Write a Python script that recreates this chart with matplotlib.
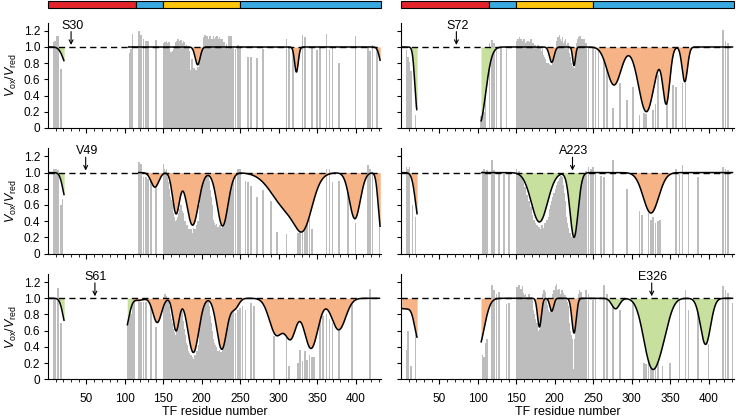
import numpy as np
import matplotlib
matplotlib.use('Agg')
import matplotlib.pyplot as plt
from matplotlib.patches import Rectangle

plt.rcParams['font.family'] = ['Liberation Sans', 'DejaVu Sans']
plt.rcParams['mathtext.fontset'] = 'custom'
plt.rcParams['mathtext.rm'] = 'Liberation Sans'
plt.rcParams['mathtext.it'] = 'Liberation Sans:italic'

# ---------------- residues (shared categories) ----------------
N_RES = [3, 5, 7, 9, 11, 13, 15, 17, 19]
A_RES = [104, 106, 108, 110, 112, 115, 118, 121, 124, 127, 130, 134, 137, 140, 143, 146]
B_RES = list(range(150, 237))
C_RES = [238, 241, 244, 247, 250, 253, 257, 260, 264, 268, 272, 276, 280, 285, 290, 294,
         298, 302, 306, 310, 313, 316, 319, 322, 325, 328, 331, 334, 337, 340, 343, 346,
         350, 354, 358, 362, 366, 370, 374, 378, 382, 386, 390, 395, 400, 404, 408, 412,
         416, 419, 422, 425, 428, 431]
residues = N_RES + A_RES + B_RES + C_RES
_ = None

# ---------------- S30 ----------------
S30_N = [_, _, 1.06, 1.07, 1.14, 1.13, _, 0.73, _]
S30_A = [_, 0.92, 0.97, 1.16, _, _, 1.2, 1.15, 1.1, 1.07, 1.07, _, _, 1.09, _, _]
S30_B = [1.0, 1.05, 1.06, 1.03, 1.07, 1.05, 1.02, 1.06, 0.95, 0.92, 0.94, 0.91, 0.95, 0.93, 0.97,
         1.0, 1.06, 1.04, 1.08, 1.1, 1.06, 1.03, 1.07, 1.09, 1.05, 1.02, 1.08, 1.06, 1.0, 0.98,
         1.02, 0.97, 0.99, 0.95, 0.9, 0.72, 0.7, 0.85, 0.78, 0.7, 0.74, 0.68, 0.72, 0.66, 0.7,
         0.75, 0.68, 0.73, 0.8, 0.88, 0.95, 1.0, 1.05, 1.12, 1.15, 1.1, 1.08, 1.13, 1.1, 1.05,
         1.12, 1.14, 1.08, 1.1, 1.06, 1.13, 1.1, 1.04, 1.12, 1.08, 1.13, 1.1, 1.05, 1.12, 1.08,
         1.1, 1.06, 1.1, 1.02, 1.06, _, 1.0, 1.04, _, 0.98, 1.13, 1.02]
S30_C = [1.13, 1.0, 0.98, 1.02, 1.0, _, _, 0.88, 0.87, _, 0.86, _, 0.97, _, _, _,
         _, _, _, 1.1, 1.0, _, 1.0, _, _, _, 1.15, 1.12, _, _, 1.0, _,
         0.96, 1.0, _, 1.16, 0.96, 1.0, _, 0.8, _, _, _, _, 1.13, _, _, _,
         1.0, 0.95, 1.03, _, 1.0, _]

# ---------------- S72 ----------------
S72_N = [_, _, 0.96, 0.88, 0.82, 0.7, _, _, 0.16]
S72_A = [0.15, 0.16, 0.2, 0.38, _, 1.05, 1.09, 1.05, 0.98, _, 1.0, _, 0.98, _, _, _]
S72_B = [1.05, 1.08, 1.1, 1.06, 1.12, 1.04, 1.1, 1.07, 1.02, 1.08, 1.1, 1.05, 1.0, 1.06, 1.03,
         1.08, 0.95, 1.02, 1.06, 1.1, 1.04, 1.0, 1.05, 0.98, 1.02, 0.95, 1.0, 0.97, 1.03, 0.93,
         0.98, 1.0, 0.95, 0.92, 0.97, 0.9, 0.88, 0.85, 0.82, 0.8, 0.78, 0.8, 0.76, 0.79, 0.75,
         0.78, 0.74, 0.77, 0.8, 0.85, 0.9, 0.97, 1.03, 1.08, 1.12, 1.06, 1.15, 1.1, 1.04, 1.08,
         1.12, 1.05, 1.02, 1.07, 1.1, 1.03, 1.0, 1.05, 0.98, 0.92, 0.88, 0.8, 0.76, 0.72, 0.75,
         0.7, 0.74, 0.8, 0.9, 1.05, 1.1, 1.12, 1.08, 1.14, 1.05, 1.1, 1.02]
S72_C = [1.1, 1.05, 1.0, _, 1.0, 0.96, 0.95, _, 0.84, 0.9, _, 0.25, _, 0.55, _, 0.34,
         _, 0.5, _, 0.16, _, 0.18, 0.17, _, _, 0.22, 0.3, 0.65, _, _, _, 0.32,
         _, 0.53, 0.5, _, 0.56, 0.55, _, _, _, _, _, _, _, _, _, _,
         _, 1.21, 1.07, 1.05, _, _]

# ---------------- V49 ----------------
V49_N = [_, _, 1.05, 1.04, 1.05, 1.03, _, 0.6, 0.67]
V49_A = [_, _, _, _, _, _, 1.13, 1.1, 0.94, 0.95, 0.92, 0.97, _, 0.82, _, _]
V49_B = [1.1, 1.05, 1.02, 0.98, 1.05, 0.95, 0.88, 0.8, 0.75, 0.7, 0.66, 0.62, 0.55, 0.5, 0.45,
         0.4, 0.38, 0.42, 0.35, 0.45, 0.5, 0.55, 0.48, 0.6, 0.52, 0.45, 0.5, 0.35, 0.4, 0.3,
         0.28, 0.35, 0.25, 0.3, 0.22, 0.28, 0.3, 0.2, 0.25, 0.32, 0.28, 0.3, 0.22, 0.35, 0.3,
         0.4, 0.35, 0.45, 0.6, 0.7, 0.8, 0.88, 0.92, 0.95, 0.98, 0.9, 0.96, 0.93, 0.97, 0.85,
         0.9, 0.78, 0.7, 0.6, 0.5, 0.42, 0.38, 0.35, 0.3, 0.36, 0.28, 0.33, 0.25, 0.3, 0.35,
         0.28, 0.32, 0.3, 0.38, 0.35, 0.4, 0.45, 0.5, 0.6, 0.65, 0.8, 0.85]
V49_C = [0.85, 0.92, 1.0, 1.05, 1.05, _, 0.9, 0.88, 0.84, _, 0.7, _, 0.78, _, 0.65, _,
         0.27, _, _, 0.24, _, _, _, _, 0.25, 0.3, 0.26, 0.3, 0.38, 0.43, 0.3, _,
         _, _, _, 1.05, 1.04, 0.88, _, 0.9, _, _, 0.84, _, 0.38, _, _, _,
         1.09, 1.05, 1.0, _, _, 0.4]

# ---------------- A223 ----------------
A223_N = [_, _, 1.07, 1.05, 1.07, _, 0.6, _, 0.45]
A223_A = [_, 1.02, 1.04, 1.0, 1.03, _, 1.15, 1.03, _, 1.0, _, 0.98, _, 1.0, _, _]
A223_B = [1.05, 1.0, 0.98, 1.02, 0.95, 0.97, 0.9, 0.93, 0.86, 0.88, 0.8, 0.82, 0.75, 0.7, 0.72,
          0.62, 0.65, 0.55, 0.5, 0.58, 0.45, 0.48, 0.4, 0.42, 0.35, 0.38, 0.3, 0.35, 0.28, 0.33,
          0.25, 0.3, 0.22, 0.35, 0.28, 0.32, 0.25, 0.38, 0.3, 0.35, 0.42, 0.38, 0.45, 0.5, 0.55,
          0.6, 0.65, 0.7, 0.68, 0.75, 0.72, 0.8, 0.78, 0.85, 0.88, 0.9, 0.93, 0.92, 0.96, 0.95,
          0.9, 0.85, 0.75, 0.65, 0.55, 0.45, 0.38, 0.32, 0.28, 0.22, 0.25, 0.18, 0.2, 0.15, 0.18,
          0.22, 0.2, 0.25, 0.3, 0.38, 0.45, 0.55, 0.65, 0.75, 0.82, 0.9, 0.95]
A223_C = [0.98, 1.02, 1.07, 1.05, 1.07, 1.0, _, 0.96, 0.94, _, _, 1.15, _, _, _, 0.8,
          _, _, _, 0.52, 0.48, _, _, 0.5, 0.42, 0.45, 0.38, 0.4, 0.42, _, _, _,
          _, _, 1.05, 0.98, 1.09, _, 1.0, _, _, 0.95, _, _, _, _, _, _,
          _, 1.07, 1.05, 1.03, _, _]

# ---------------- S61 ----------------
S61_N = [_, _, 0.98, 1.0, _, 1.13, _, 0.7, _]
S61_A = [0.7, 0.74, 0.8, 0.93, 0.95, _, 0.97, 0.96, 0.95, 0.95, _, 0.92, _, 0.64, _, _]
S61_B = [1.0, 1.02, 1.05, 1.0, 1.03, 0.98, 0.95, 0.9, 0.85, 0.8, 0.75, 0.7, 0.68, 0.62, 0.58,
         0.55, 0.5, 0.56, 0.62, 0.7, 0.8, 0.85, 0.88, 0.86, 0.84, 0.8, 0.72, 0.62, 0.55, 0.45,
         0.4, 0.42, 0.35, 0.3, 0.32, 0.25, 0.3, 0.22, 0.28, 0.2, 0.25, 0.3, 0.22, 0.28, 0.35,
         0.3, 0.42, 0.5, 0.65, 0.75, 0.85, 0.9, 0.95, 0.92, 0.97, 0.95, 0.98, 0.94, 0.96, 0.9,
         0.85, 0.78, 0.7, 0.6, 0.55, 0.5, 0.45, 0.42, 0.38, 0.4, 0.32, 0.35, 0.3, 0.36, 0.28,
         0.33, 0.3, 0.35, 0.4, 0.45, 0.55, 0.65, 0.72, 0.8, 0.83, 0.85, 0.82]
S61_C = [0.84, 0.86, 0.82, 0.85, 0.88, 0.9, 0.86, _, 0.94, 0.9, _, _, _, _, _, 0.53,
         _, _, _, 0.52, 0.16, _, _, _, 0.2, 0.36, 0.22, 0.35, 0.24, 0.3, 0.28, 0.27,
         _, 0.8, 0.78, 0.8, 0.75, 0.7, _, 0.62, _, _, _, 0.94, _, _, _, _,
         _, 1.11, _, _, _, _]

# ---------------- E326 ----------------
E326_N = [_, _, 0.36, 0.6, _, 0.16, _, _, 0.55]
E326_A = [_, 0.3, 0.28, 0.45, 0.5, _, 1.16, 1.1, 1.05, 1.08, _, _, 0.93, 0.94, _, _]
E326_B = [1.1, 1.14, 1.08, 1.16, 1.1, 1.05, 1.12, 1.08, 1.15, 1.06, 1.04, 1.0, 1.05, 0.98, 1.02,
          0.97, 1.05, 1.0, 0.95, 1.02, 0.98, 0.9, 0.85, 0.8, 0.75, 0.72, 0.65, 0.7, 0.6, 0.55,
          0.62, 0.58, 0.7, 0.85, 1.0, 1.05, 1.1, 1.02, 1.08, 1.0, 0.92, 0.85, 0.82, 0.8, 0.83,
          0.85, 0.9, 1.0, 1.05, 1.1, 1.08, 1.15, 1.18, 1.1, 1.05, 1.12, 1.08, 1.0, 1.05, 1.1,
          1.02, 1.06, 1.0, 1.04, 0.98, 1.02, 0.95, 0.9, 0.8, 0.7, 0.6, 0.55, 0.5, 0.45, 0.1,
          0.12, 0.5, 0.55, 0.7, 0.85, 1.0, 1.05, 1.1, 1.02, 1.08, 1.0, 0.98]
E326_C = [1.0, 1.1, 1.05, _, 0.98, 1.0, _, _, 1.17, 1.05, _, 0.94, _, 0.86, _, _,
          _, 0.98, _, _, _, 0.2, 0.19, 0.24, 0.16, 0.28, 0.22, 0.2, _, 0.16, _, _,
          0.2, _, _, 0.98, _, 1.1, 0.86, _, _, 0.9, _, _, 0.43, _, _, _,
          _, 1.15, 1.1, 1.06, _, 0.94]

# ---------------- fitted curves: dips (centre, depth, width) ----------------
S30_DIPS = [(26, 0.25, 6), (194.6, 0.22, 3.2), (323, 0.31, 2.4), (435, 0.25, 3.5)]
S72_DIPS = [(21, 0.78, 3), (102, 0.95, 8), (196, 0.19, 3), (225, 0.23, 1.8), (277, 0.47, 9),
            (319, 0.8, 10), (345, 0.68, 4.5), (369, 0.43, 3.5)]
V49_DIPS = [(24, 0.35, 4.5), (139, 0.18, 5), (166.5, 0.5, 4.5), (188, 0.65, 7.5), (227, 0.66, 7),
            (312, 0.45, 20), (333, 0.45, 11), (399, 0.57, 7), (433, 0.7, 3.5)]
A223_DIPS = [(24, 0.62, 5), (180, 0.61, 10.5), (225, 0.8, 5.2), (325, 0.5, 10)]
S61_DIPS = [(24, 0.35, 4.5), (100, 0.4, 5), (118, 0.025, 6), (142, 0.3, 5.5), (166.5, 0.4, 4),
            (189, 0.67, 7), (226, 0.63, 6.5), (243, 0.12, 5), (297, 0.45, 9), (316, 0.45, 7),
            (342, 0.62, 9), (378, 0.39, 9)]
E326_DIPS = [(5, 0.13, 15), (23, 0.45, 5), (100, 0.62, 8), (180, 0.355, 2.5), (196, 0.16, 2.5),
             (225, 0.43, 2.8), (279, 0.13, 5), (325, 0.77, 10), (340, 0.35, 9), (396, 0.57, 6.5)]

SEG1 = (1, 21)
SEG2_START = {'S30': 104, 'S72': 104, 'V49': 117, 'A223': 104, 'S61': 103, 'E326': 104}
SEG_END = 432

GREEN = '#C7E09D'
ORANGE = '#F6B385'
GRAY = '#BDBDBD'

FILLS = {
    'S30': [(0, 22, GREEN), (100, 433, ORANGE)],
    'S72': [(0, 22, GREEN), (100, 140, GREEN), (140, 433, ORANGE)],
    'V49': [(0, 22, GREEN), (100, 433, ORANGE)],
    'A223': [(0, 22, ORANGE), (100, 260, GREEN), (260, 433, ORANGE)],
    'S61': [(0, 22, GREEN), (100, 110, GREEN), (110, 433, ORANGE)],
    'E326': [(0, 22, ORANGE), (100, 255, ORANGE), (255, 433, GREEN)],
}

labels = ['S30', 'S72', 'V49', 'A223', 'S61', 'E326']
label_pos = [30, 72, 49, 223, 61, 326]
values = {
    'S30': S30_N + S30_A + S30_B + S30_C,
    'S72': S72_N + S72_A + S72_B + S72_C,
    'V49': V49_N + V49_A + V49_B + V49_C,
    'A223': A223_N + A223_A + A223_B + A223_C,
    'S61': S61_N + S61_A + S61_B + S61_C,
    'E326': E326_N + E326_A + E326_B + E326_C,
}
dips = {'S30': S30_DIPS, 'S72': S72_DIPS, 'V49': V49_DIPS, 'A223': A223_DIPS,
        'S61': S61_DIPS, 'E326': E326_DIPS}

DOMAIN_EDGES = [0, 114, 149, 250, 433]
DOMAIN_COLORS = ['#E3242B', '#39A9E0', '#FFC40C', '#39A9E0']


def model(x, dd):
    y = np.ones_like(x)
    for c, a, s in dd:
        y = y - a * np.exp(-(x - c) ** 2 / (2 * s * s))
    return y


W, H = 736, 417
fig = plt.figure(figsize=(W / 100, H / 100), dpi=100)

col_x = [48, 401]
ax_w = 333
row_top = [22.7, 148.3, 274.0]
ax_h = 105.2

for i, lab in enumerate(labels):
    r, c = divmod(i, 2)
    left = col_x[c] / W
    bottom = 1 - (row_top[r] + ax_h) / H
    ax = fig.add_axes([left, bottom, ax_w / W, ax_h / H])
    res = np.array(residues, float)
    v = np.array([np.nan if q is None else q for q in values[lab]], float)
    m = ~np.isnan(v)
    ax.bar(res[m], v[m], width=2.2, color=GRAY, linewidth=0, zorder=1)
    ax.plot([0, 433], [1, 1], color='k', lw=1.0, ls=(0, (4.5, 3.0)), zorder=3)
    for (a, b) in [SEG1, (SEG2_START[lab], SEG_END)]:
        x = np.linspace(a, b, 800)
        y = model(x, dips[lab])
        for f0, f1, col in FILLS[lab]:
            mm = (x >= f0) & (x <= f1)
            if mm.sum() > 1:
                ax.fill_between(x[mm], y[mm], 1, color=col, linewidth=0, zorder=2)
        ax.plot(x, y, color='k', lw=1.1, zorder=4, solid_capstyle='butt')
    p = label_pos[i]
    ax.annotate('', xy=(p, 1.025), xytext=(p, 1.19),
                arrowprops=dict(arrowstyle='->', lw=0.8, color='k', shrinkA=0, shrinkB=0,
                                mutation_scale=7), annotation_clip=False)
    ax.text(p + 1.5, 1.225, lab, ha='center', va='baseline', fontsize=9, clip_on=False)

    ax.set_xlim(0, 433)
    ax.set_ylim(0, 1.3)
    for s in ['top', 'right']:
        ax.spines[s].set_visible(False)
    for s in ['left', 'bottom']:
        ax.spines[s].set_linewidth(0.8)
    ax.set_xticks(np.arange(50, 401, 50))
    ax.set_xticks(np.arange(10, 431, 10), minor=True)
    ax.set_yticks([0, 0.2, 0.4, 0.6, 0.8, 1.0, 1.2])
    ax.tick_params(which='major', direction='out', length=3, width=0.8, labelsize=8.5, pad=2.5)
    ax.tick_params(which='minor', direction='out', length=1.8, width=0.6)
    ax.tick_params(axis='x', which='major', length=3.5, pad=6.5)
    if c == 0:
        ax.set_yticklabels(['0', '0.2', '0.4', '0.6', '0.8', '1.0', '1.2'])
        ax.set_ylabel(r'$V_{\mathrm{ox}}/V_{\mathrm{red}}$', fontsize=9)
        ax.yaxis.set_label_coords(-0.088, 0.5)
    else:
        ax.set_yticklabels([])
    if r == 2:
        ax.set_xticklabels([str(t) for t in range(50, 401, 50)])
        ax.set_xlabel('TF residue number', fontsize=9)
        ax.xaxis.set_label_coords(0.5, -0.252)
    else:
        ax.set_xticklabels([])

# domain bars
for c in range(2):
    bx = fig.add_axes([col_x[c] / W, 1 - 7.6 / H, ax_w / W, 7.0 / H])
    bx.set_xlim(0, 433)
    bx.set_ylim(0, 1)
    bx.axis('off')
    for k in range(4):
        x0, x1 = DOMAIN_EDGES[k], DOMAIN_EDGES[k + 1]
        bx.add_patch(Rectangle((x0, 0), x1 - x0, 1, facecolor=DOMAIN_COLORS[k],
                               edgecolor='k', lw=0.8, clip_on=False))

fig.savefig('out.png', dpi=100)
